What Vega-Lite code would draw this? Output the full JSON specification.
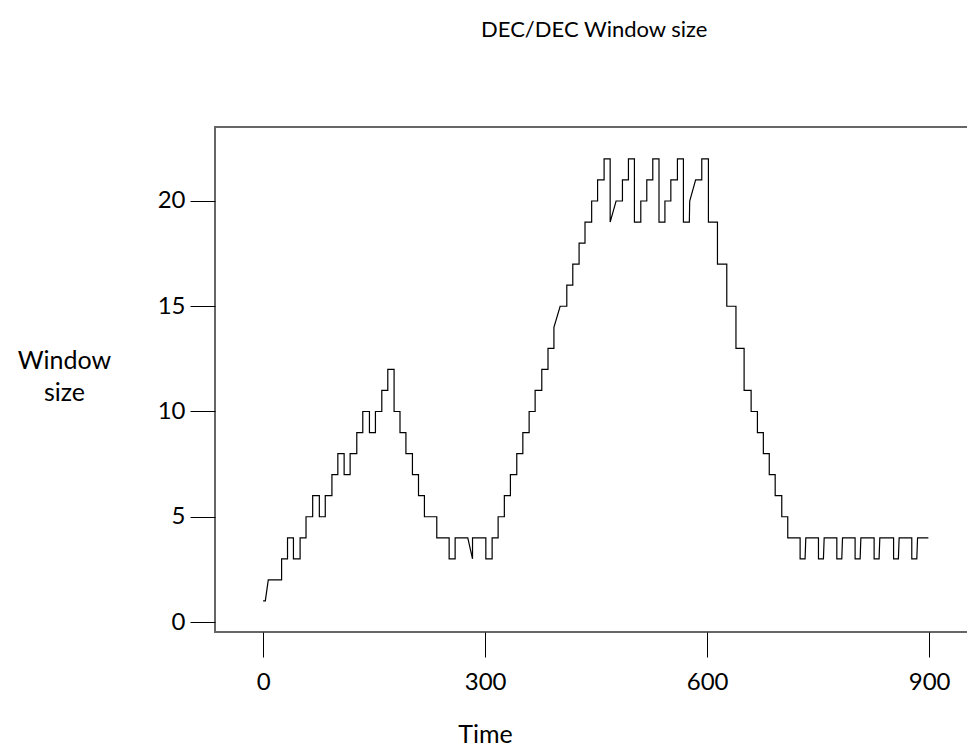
{
  "$schema": "https://vega.github.io/schema/vega-lite/v6.json",
  "autosize": {"type": "none"},
  "padding": {"left": 215, "top": 127, "right": 0, "bottom": 117},
  "width": 758.5,
  "height": 505,
  "title": {"text": "DEC/DEC Window size", "anchor": "middle", "offset": 85, "fontSize": 22, "font": "Lato", "fontWeight": "normal", "color": "#000"},
  "config": {
    "view": {"stroke": "#666", "strokeWidth": 2},
    "axis": {"labelFont": "Lato", "titleFont": "Lato", "labelFontSize": 24, "titleFontSize": 25, "labelColor": "#000", "titleColor": "#000", "titleFontWeight": "normal", "grid": false, "domain": false, "tickColor": "#000", "tickSize": 25, "tickWidth": 1}
  },
  "data": {"values": [
    {"i":0,"t":0,"w":1},{"i":1,"t":3,"w":1},{"i":2,"t":7,"w":2},{"i":3,"t":25,"w":2},{"i":4,"t":25,"w":3},{"i":5,"t":33,"w":3},{"i":6,"t":33,"w":4},{"i":7,"t":41,"w":4},{"i":8,"t":41,"w":3},{"i":9,"t":50,"w":3},
    {"i":10,"t":50,"w":4},{"i":11,"t":58,"w":4},{"i":12,"t":58,"w":5},{"i":13,"t":67,"w":5},{"i":14,"t":67,"w":6},{"i":15,"t":76,"w":6},{"i":16,"t":76,"w":5},{"i":17,"t":84,"w":5},{"i":18,"t":84,"w":6},{"i":19,"t":93,"w":6},
    {"i":20,"t":93,"w":7},{"i":21,"t":101,"w":7},{"i":22,"t":101,"w":8},{"i":23,"t":109.5,"w":8},{"i":24,"t":109.5,"w":7},{"i":25,"t":117.6,"w":7},{"i":26,"t":117.6,"w":8},{"i":27,"t":126.6,"w":8},{"i":28,"t":126.6,"w":9},{"i":29,"t":134.7,"w":9},
    {"i":30,"t":134.7,"w":10},{"i":31,"t":143.7,"w":10},{"i":32,"t":143.7,"w":9},{"i":33,"t":151.8,"w":9},{"i":34,"t":151.8,"w":10},{"i":35,"t":160.4,"w":10},{"i":36,"t":160.4,"w":11},{"i":37,"t":168.5,"w":11},{"i":38,"t":168.5,"w":12},{"i":39,"t":177,"w":12},
    {"i":40,"t":177,"w":10},{"i":41,"t":185,"w":10},{"i":42,"t":185,"w":9},{"i":43,"t":193,"w":9},{"i":44,"t":193,"w":8},{"i":45,"t":201.8,"w":8},{"i":46,"t":201.8,"w":7},{"i":47,"t":210,"w":7},{"i":48,"t":210,"w":6},{"i":49,"t":218,"w":6},
    {"i":50,"t":218,"w":5},{"i":51,"t":234.7,"w":5},{"i":52,"t":234.7,"w":4},{"i":53,"t":251.4,"w":4},{"i":54,"t":251.4,"w":3},{"i":55,"t":259.5,"w":3},{"i":56,"t":259.5,"w":4},{"i":57,"t":276.6,"w":4},{"i":58,"t":283,"w":3},{"i":59,"t":283,"w":4},
    {"i":60,"t":301,"w":4},{"i":61,"t":301,"w":3},{"i":62,"t":309.5,"w":3},{"i":63,"t":309.5,"w":4},{"i":64,"t":317.6,"w":4},{"i":65,"t":317.6,"w":5},{"i":66,"t":326,"w":5},{"i":67,"t":326,"w":6},{"i":68,"t":334.2,"w":6},{"i":69,"t":334.2,"w":7},
    {"i":70,"t":342.8,"w":7},{"i":71,"t":342.8,"w":8},{"i":72,"t":351,"w":8},{"i":73,"t":351,"w":9},{"i":74,"t":359.5,"w":9},{"i":75,"t":359.5,"w":10},{"i":76,"t":367.6,"w":10},{"i":77,"t":367.6,"w":11},{"i":78,"t":376.6,"w":11},{"i":79,"t":376.6,"w":12},
    {"i":80,"t":385,"w":12},{"i":81,"t":385,"w":13},{"i":82,"t":393,"w":13},{"i":83,"t":393,"w":14},{"i":84,"t":401.4,"w":15},{"i":85,"t":410.4,"w":15},{"i":86,"t":410.4,"w":16},{"i":87,"t":418.5,"w":16},{"i":88,"t":418.5,"w":17},{"i":89,"t":427,"w":17},
    {"i":90,"t":427,"w":18},{"i":91,"t":435,"w":18},{"i":92,"t":435,"w":19},{"i":93,"t":444,"w":19},{"i":94,"t":444,"w":20},{"i":95,"t":452,"w":20},{"i":96,"t":452,"w":21},{"i":97,"t":460.8,"w":21},{"i":98,"t":460.8,"w":22},{"i":99,"t":469,"w":22},
    {"i":100,"t":469,"w":19},{"i":101,"t":477,"w":20},{"i":102,"t":485.6,"w":20},{"i":103,"t":485.6,"w":21},{"i":104,"t":493.7,"w":21},{"i":105,"t":493.7,"w":22},{"i":106,"t":501.8,"w":22},{"i":107,"t":501.8,"w":19},{"i":108,"t":510.4,"w":19},{"i":109,"t":510.4,"w":20},
    {"i":110,"t":518.5,"w":20},{"i":111,"t":518.5,"w":21},{"i":112,"t":526.6,"w":21},{"i":113,"t":526.6,"w":22},{"i":114,"t":535,"w":22},{"i":115,"t":535,"w":19},{"i":116,"t":543,"w":19},{"i":117,"t":543,"w":20},{"i":118,"t":551,"w":20},{"i":119,"t":551,"w":21},
    {"i":120,"t":559.9,"w":21},{"i":121,"t":559.9,"w":22},{"i":122,"t":568,"w":22},{"i":123,"t":568,"w":19},{"i":124,"t":576,"w":19},{"i":125,"t":576.5,"w":20},{"i":126,"t":584.5,"w":21},{"i":127,"t":592.8,"w":21},{"i":128,"t":592.8,"w":22},{"i":129,"t":601.8,"w":22},
    {"i":130,"t":601.8,"w":19},{"i":131,"t":614,"w":19},{"i":132,"t":614,"w":17},{"i":133,"t":626.6,"w":17},{"i":134,"t":626.6,"w":15},{"i":135,"t":639,"w":15},{"i":136,"t":639,"w":13},{"i":137,"t":650,"w":13},{"i":138,"t":650,"w":11},{"i":139,"t":659.5,"w":11},
    {"i":140,"t":659.5,"w":10},{"i":141,"t":668,"w":10},{"i":142,"t":668,"w":9},{"i":143,"t":676,"w":9},{"i":144,"t":676,"w":8},{"i":145,"t":684,"w":8},{"i":146,"t":684,"w":7},{"i":147,"t":692,"w":7},{"i":148,"t":692,"w":6},{"i":149,"t":700.9,"w":6},
    {"i":150,"t":700.9,"w":5},{"i":151,"t":709,"w":5},{"i":152,"t":709,"w":4},{"i":153,"t":725.7,"w":4},{"i":154,"t":725.7,"w":3},{"i":155,"t":732.4,"w":3},{"i":156,"t":733.4,"w":4},{"i":157,"t":750.5,"w":4},{"i":158,"t":750.5,"w":3},{"i":159,"t":757.2,"w":3},
    {"i":160,"t":758.2,"w":4},{"i":161,"t":775.3,"w":4},{"i":162,"t":775.3,"w":3},{"i":163,"t":782,"w":3},{"i":164,"t":783,"w":4},{"i":165,"t":800,"w":4},{"i":166,"t":800,"w":3},{"i":167,"t":806.8,"w":3},{"i":168,"t":807.8,"w":4},{"i":169,"t":825.7,"w":4},
    {"i":170,"t":825.7,"w":3},{"i":171,"t":832.4,"w":3},{"i":172,"t":833.4,"w":4},{"i":173,"t":852,"w":4},{"i":174,"t":852,"w":3},{"i":175,"t":858.5,"w":3},{"i":176,"t":859.5,"w":4},{"i":177,"t":876.6,"w":4},{"i":178,"t":876.6,"w":3},{"i":179,"t":883.4,"w":3},
    {"i":180,"t":884.4,"w":4},{"i":181,"t":899,"w":4}
  ]},
  "mark": {"type": "line", "color": "#000", "strokeWidth": 1.2, "clip": true},
  "encoding": {
    "x": {"field": "t", "type": "quantitative", "scale": {"domain": [-65, 960], "nice": false, "zero": false},
      "axis": {"values": [0, 300, 600, 900], "title": "Time", "labelPadding": 13, "titleX": 270, "titleY": 102, "titleAnchor": null, "titleAlign": "center", "titleBaseline": "middle"}},
    "y": {"field": "w", "type": "quantitative", "scale": {"domain": [-0.475, 23.515], "nice": false, "zero": false},
      "axis": {"values": [0, 5, 10, 15, 20], "title": ["Window", "size"], "titleAngle": 0, "labelPadding": 5, "titleX": -151, "titleY": 233, "titleLineHeight": 32, "titleAlign": "center", "titleBaseline": "middle"}},
    "order": {"field": "i", "type": "quantitative"}
  }
}
